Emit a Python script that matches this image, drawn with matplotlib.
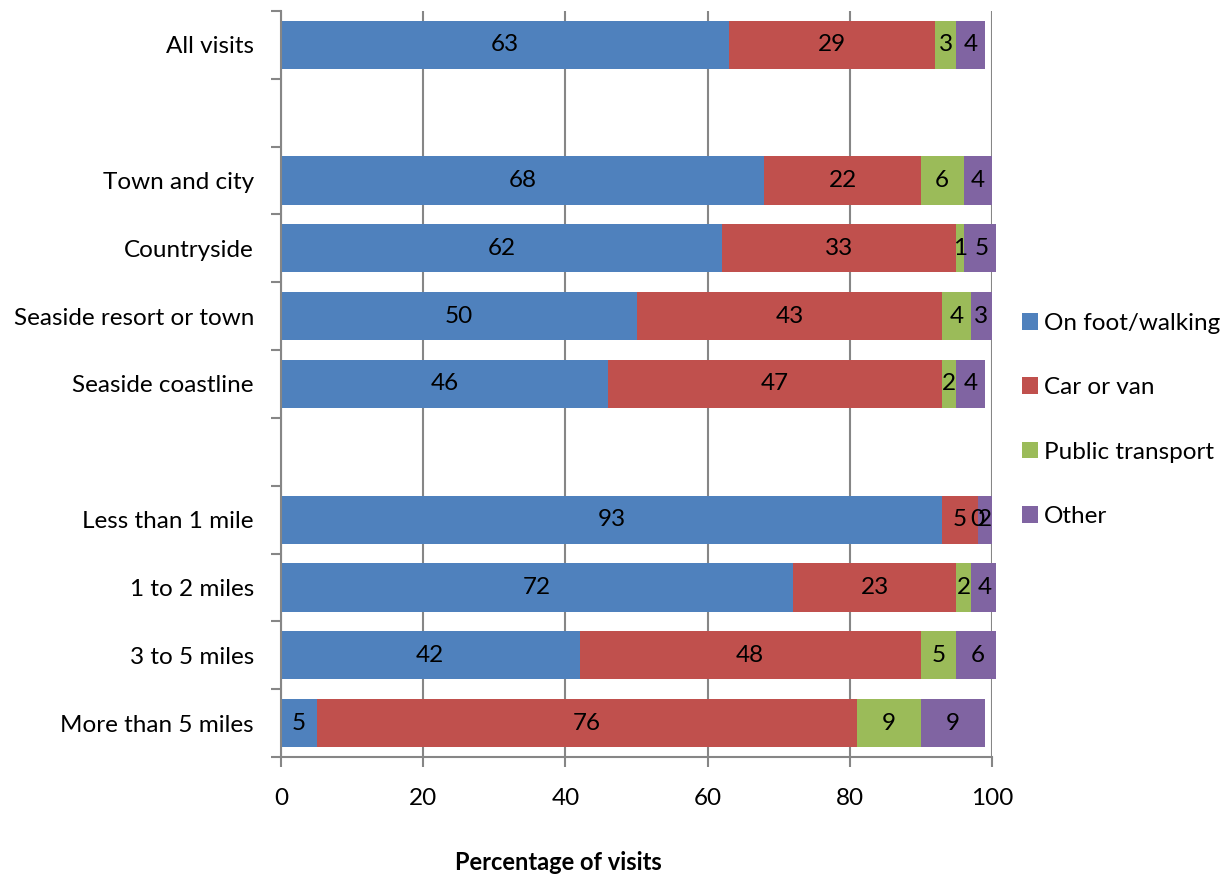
import matplotlib
matplotlib.use("Agg")
import matplotlib.pyplot as plt
from matplotlib.patches import Patch, Rectangle

plt.rcParams['font.family'] = ['Lato', 'DejaVu Sans']

categories = ["All visits", "", "Town and city", "Countryside", "Seaside resort or town",
              "Seaside coastline", "", "Less than 1 mile", "1 to 2 miles", "3 to 5 miles",
              "More than 5 miles"]
series_names = ["On foot/walking", "Car or van", "Public transport", "Other"]
on_foot = [63, None, 68, 62, 50, 46, None, 93, 72, 42, 5]
car_van = [29, None, 22, 33, 43, 47, None, 5, 23, 48, 76]
public = [3, None, 6, 1, 4, 2, None, 0, 2, 5, 9]
other = [4, None, 4, 5, 3, 4, None, 2, 4, 6, 9]
x_ticks = [0, 20, 40, 60, 80, 100]
x_label = "Percentage of visits"

colors = ["#4F81BD", "#C0504D", "#9BBB59", "#8064A2"]
grid_col = "#868686"
fs = 17.5

fig = plt.figure(figsize=(12.28, 8.74), dpi=100)
ax = fig.add_axes([281/1228, 1-757/874, (992-281)/1228, (757-11)/874])

# plot area clip slightly beyond 100 (as in the original)
clip = Rectangle((0, -0.5), 100.5, len(categories), transform=ax.transData, visible=False)
ax.add_patch(clip)

series = [on_foot, car_van, public, other]
left = [0.0]*len(categories)
for s, col in zip(series, colors):
    for i, v in enumerate(s):
        if v is None:
            continue
        b = ax.barh(i, v, left=left[i], height=0.71, color=col, edgecolor='none', zorder=3)
        for p in b:
            p.set_clip_path(clip)
        ax.text(left[i] + v/2, i, str(v), ha='center', va='center', fontsize=fs, color='black', zorder=4)
        left[i] += v

ax.set_xlim(0, 100)
ax.set_ylim(len(categories)-0.5, -0.5)
ax.set_xticks(x_ticks)
ax.set_xticklabels([str(t) for t in x_ticks], fontsize=fs)
ax.tick_params(axis='x', direction='out', length=7, width=1.5, color=grid_col, pad=15)
ax.set_yticks(range(len(categories)))
ax.set_yticklabels(categories, fontsize=fs)
ax.tick_params(axis='y', which='major', length=0, pad=19.5)
ax.set_yticks([i - 0.5 for i in range(len(categories)+1)], minor=True)
ax.tick_params(axis='y', which='minor', direction='out', length=7, width=1.5, color=grid_col)

ax.grid(axis='x', color=grid_col, linewidth=1.5, zorder=0)
ax.set_axisbelow(True)
for sp in ['top', 'right']:
    ax.spines[sp].set_visible(False)
for sp in ['left', 'bottom']:
    ax.spines[sp].set_color(grid_col)
    ax.spines[sp].set_linewidth(1.5)
    ax.spines[sp].set_zorder(5)

fig.text(558/1228, 1-862/874, x_label, ha='center', va='center', fontsize=17, fontweight='bold')

handles = [Patch(facecolor=c, edgecolor='none') for c in colors]
leg = fig.legend(handles, series_names, loc='center left', bbox_to_anchor=(1000/1228, 1-420/874),
                 frameon=False, fontsize=fs, handlelength=0.68, handleheight=0.68,
                 handletextpad=0.22, labelspacing=1.78)

fig.savefig("out.png", dpi=100)
